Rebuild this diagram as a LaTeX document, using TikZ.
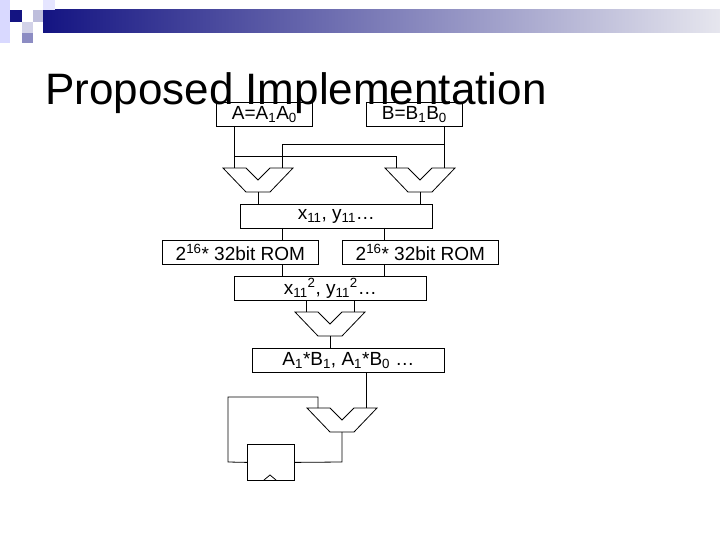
\documentclass[tikz,border=0pt]{standalone}
\usepackage{fontspec}
\setmainfont{Liberation Sans}
\definecolor{navy}{RGB}{20,20,130}
\definecolor{pale}{RGB}{230,230,238}
\definecolor{sqa}{RGB}{190,190,220}
\definecolor{sqb}{RGB}{210,210,232}
\definecolor{sqc}{RGB}{140,140,195}
\begin{document}
\begin{tikzpicture}[x=1pt,y=-1pt,
  box/.style={draw,line width=0.8pt,inner sep=0pt,anchor=north west,font=\fontsize{19}{22}\selectfont},
  wire/.style={line width=0.8pt},
  muxs/.style={line width=0.8pt}]
\useasboundingbox[fill=white] (0,0) rectangle (720,540);
% header
\shade[left color=navy, right color=pale] (43,10) rectangle (720,33);
\fill[blue!15!white] (0,0) rectangle (10,43);
\fill[blue!10!white] (43,0) rectangle (55,10);
\fill[navy] (10,10) rectangle (22,22);
\fill[sqa] (33,10) rectangle (43,22);
\fill[sqb] (22,22) rectangle (33,33);
\fill[sqc] (22,33) rectangle (33,43);
% title
\node[anchor=base west,inner sep=0pt,font=\fontsize{44}{50}\selectfont] (title) at (45,105) {Proposed Implementation};
% boxes
\node[box,minimum width=96,minimum height=24] (A) at (216,102) {A=A\textsubscript{1}A\textsubscript{0}};
\node[box,minimum width=96,minimum height=24] (B) at (366,102) {B=B\textsubscript{1}B\textsubscript{0}};
\node[box,minimum width=192,minimum height=24] (X) at (240,204) {x\textsubscript{11}, y\textsubscript{11}\dots};
\node[box,minimum width=156,minimum height=24] (R1) at (162,240) {2\textsuperscript{16}* 32bit ROM};
\node[box,minimum width=156,minimum height=24] (R2) at (342,240) {2\textsuperscript{16}* 32bit ROM};
\node[box,minimum width=192,minimum height=24] (X2) at (234,276) {x\textsubscript{11}\textsuperscript{2}, y\textsubscript{11}\textsuperscript{2}\dots};
\node[box,minimum width=192,minimum height=24] (P) at (252,348) {A\textsubscript{1}*B\textsubscript{1}, A\textsubscript{1}*B\textsubscript{0} \dots};
\node[draw,line width=0.8pt,inner sep=0pt,anchor=north west,minimum width=47,minimum height=36] (Reg) at (247,444) {};
\draw[wire] (264,480) -- (270,475) -- (276,480);
% muxes
\newcommand\muxat[3]{%
  \draw[muxs] (#1-35,#2) -- (#1-12,#2) -- (#1,#2+12) -- (#1+12,#2) -- (#1+35,#2) -- (#1+12,#2+24) -- (#1-12,#2+24) -- cycle;
  \coordinate (#3o) at (#1,#2+24);}
\muxat{258}{168}{m1}
\muxat{420}{168}{m2}
\muxat{330}{312}{m3}
\muxat{342}{408}{m4}
% wires
\draw[wire] (234,126) -- (234,168);
\draw[wire] (234,156) -- (396,156) -- (396,168);
\draw[wire] (444,126) -- (444,168);
\draw[wire] (444,144) -- (282,144) -- (282,168);
\draw[wire] (m1o) -- (258,204);
\draw[wire] (m2o) -- (420,204);
\draw[wire] (282,228) -- (282,240);
\draw[wire] (384,228) -- (384,240);
\draw[wire] (282,264) -- (282,276);
\draw[wire] (384,264) -- (384,276);
\draw[wire] (306,300) -- (306,312);
\draw[wire] (354,300) -- (354,312);
\draw[wire] (m3o) -- (330,348);
\draw[wire] (366,372) -- (366,408);
\draw[wire] (318,408) -- (318,397) -- (228,397) -- (228,462) -- (Reg.west);
\draw[wire] (Reg.east) -- (342,462) -- (m4o);
\end{tikzpicture}
\end{document}
